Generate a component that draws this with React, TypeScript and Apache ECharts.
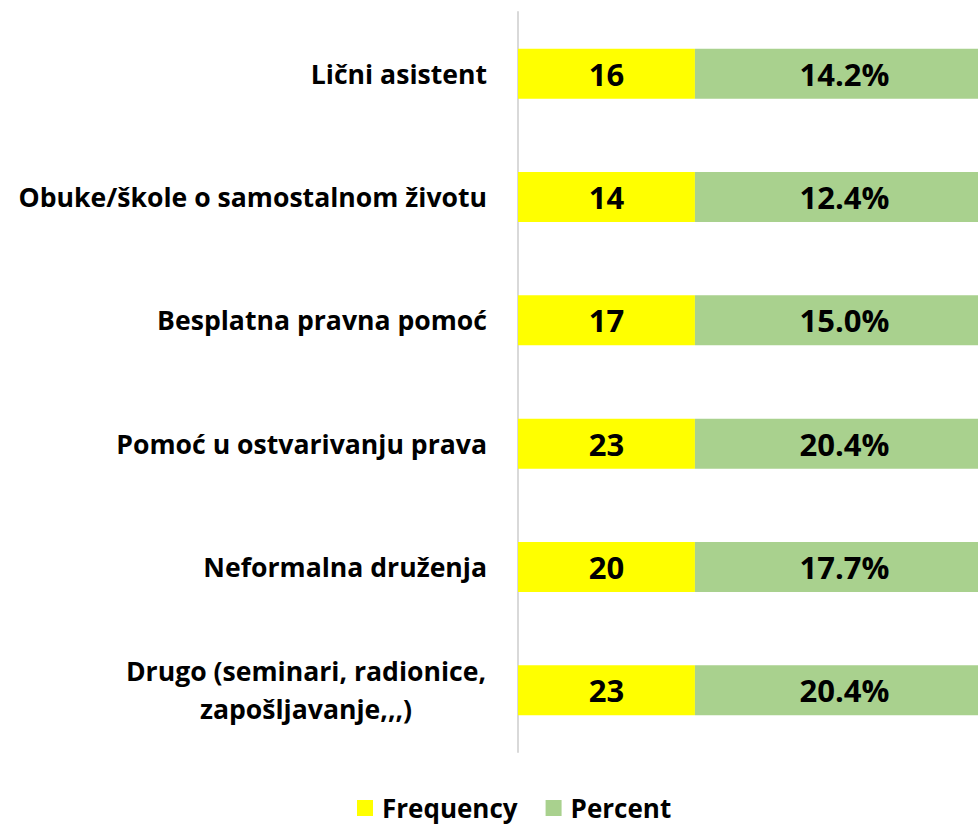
import React, { useEffect, useRef } from "react";
import * as echarts from "echarts";

const categories = [
  "Lični asistent",
  "Obuke/škole o samostalnom životu",
  "Besplatna pravna pomoć",
  "Pomoć u ostvarivanju prava",
  "Neformalna druženja",
  "Drugo (seminari, radionice,\nzapošljavanje,,,)",
];
const frequency = [16, 14, 17, 23, 20, 23];
const percent = [14.2, 12.4, 15.0, 20.4, 17.7, 20.4];
const seriesNames = ["Frequency", "Percent"];

// table-like layout: each column has a fixed width (layout, not data)
const FREQ_COL = 1;
const PCT_COL = 1.68;

const FONT = "'Open Sans', 'DejaVu Sans', sans-serif";

export default function App() {
  const ref = useRef<HTMLDivElement>(null);
  useEffect(() => {
    if (!ref.current) return;
    const chart = echarts.init(ref.current, null, { renderer: "svg" });
    const last = categories.length - 1;
    chart.setOption({
      animation: false,
      backgroundColor: "#ffffff",
      grid: { left: 518, right: 0, top: 12, bottom: 73, containLabel: false },
      legend: {
        data: seriesNames,
        left: 352,
        top: 790,
        icon: "rect",
        itemWidth: 16,
        itemHeight: 16,
        itemGap: 28,
        textStyle: {
          fontFamily: FONT,
          fontWeight: "bold",
          fontSize: 26,
          color: "#000",
          padding: [0, 0, 0, 4],
        },
      },
      xAxis: {
        type: "value",
        min: 0,
        max: 2.6,
        show: false,
        splitLine: { show: false },
      },
      yAxis: {
        type: "category",
        inverse: true,
        data: categories.map((c, i) =>
          i === last
            ? { value: c, textStyle: { align: "center", padding: [0, 362, 0, 0], lineHeight: 38 } }
            : { value: c }
        ),
        axisLine: { show: true, lineStyle: { color: "#d9d9d9", width: 2 } },
        axisTick: { show: false },
        axisLabel: {
          margin: 31,
          fontFamily: FONT,
          fontWeight: "bold",
          fontSize: 26.6,
          color: "#000",
        },
      },
      series: [
        {
          name: seriesNames[0],
          type: "bar",
          stack: "t",
          barWidth: 50,
          itemStyle: { color: "#ffff00" },
          data: frequency.map((v) => ({ value: FREQ_COL, raw: v })),
          label: {
            show: true,
            position: "inside",
            formatter: (p: any) => String(frequency[p.dataIndex]),
            fontFamily: FONT,
            fontWeight: "bold",
            fontSize: 31,
            color: "#000",
          },
        },
        {
          name: seriesNames[1],
          type: "bar",
          stack: "t",
          barWidth: 50,
          itemStyle: { color: "#a9d18e" },
          data: percent.map((v) => ({ value: PCT_COL, raw: v })),
          label: {
            show: true,
            position: "inside",
            offset: [8, 0],
            formatter: (p: any) => percent[p.dataIndex].toFixed(1) + "%",
            fontFamily: FONT,
            fontWeight: "bold",
            fontSize: 31,
            color: "#000",
          },
        },
      ],
    });
    return () => chart.dispose();
  }, []);
  return (
    <div
      ref={ref}
      style={{ position: "absolute", left: 0, top: 0, width: 978, height: 825 }}
    />
  );
}
